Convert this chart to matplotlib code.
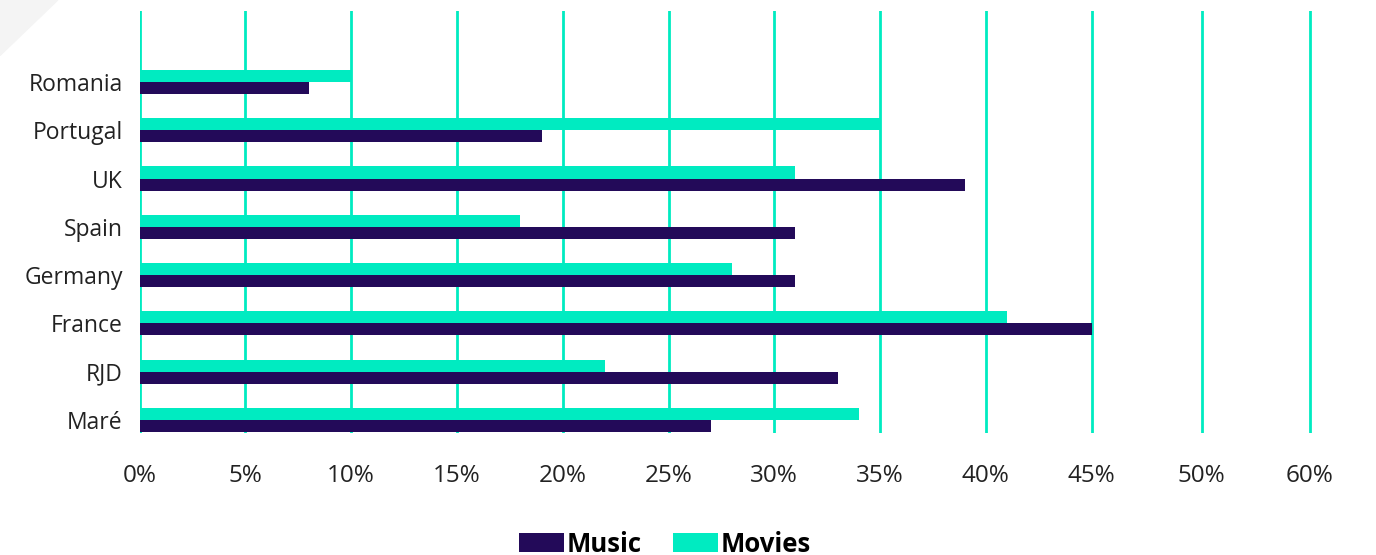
import numpy as np
import matplotlib.pyplot as plt
from matplotlib.patches import Polygon

# data (percent)
countries = ['Romania', 'Portugal', 'UK', 'Spain', 'Germany', 'France', 'RJD', 'Maré']
music = [8, 19, 39, 31, 31, 45, 33, 27]
movies = [10, 35, 31, 18, 28, 41, 22, 34]
tick_pos = [0, 5, 10, 15, 20, 25, 30, 35, 40, 45, 50.2, 55.3]
tick_labels = ['0%', '5%', '10%', '15%', '20%', '25%', '30%', '35%', '40%', '45%', '50%', '60%']

c_music = '#230a59'
c_movies = '#00ebc1'
txt = '#222222'

plt.rcParams['font.family'] = ['Open Sans', 'DejaVu Sans']

fig = plt.figure(figsize=(13.76, 5.55), dpi=100)
# faint corner decoration
fig.patches.append(Polygon([[0, 1], [0.042, 1], [0, 0.90]], closed=True,
                           transform=fig.transFigure, color='#f4f4f4', zorder=0))

ax = fig.add_axes([139.5 / 1376, 1 - 433 / 555, 1185 / 1376, 422 / 555])

y = np.arange(len(countries))
h = 0.25
ax.barh(y - h / 2, movies, height=h, color=c_movies, zorder=3, label='Movies')
ax.barh(y + h / 2, music, height=h, color=c_music, zorder=3, label='Music')

ax.set_xlim(0, 56)
ax.set_ylim(7.27, -1.47)
ax.set_xticks(tick_pos)
ax.set_xticklabels(tick_labels, fontsize=17.5, color=txt)
ax.set_yticks(y)
ax.set_yticklabels(countries, fontsize=16.5, color=txt)
ax.tick_params(axis='both', length=0)
ax.tick_params(axis='x', pad=22)
ax.tick_params(axis='y', pad=12)

ax.grid(axis='x', color=c_movies, linewidth=2, zorder=0)
ax.grid(axis='y', visible=False)
for s in ax.spines.values():
    s.set_visible(False)

handles, labels = ax.get_legend_handles_labels()
leg = fig.legend(handles[::-1], labels[::-1], loc='center', bbox_to_anchor=(665 / 1376, 1 - 544 / 555),
                 ncol=2, frameon=False, prop={'weight': 'bold', 'size': 18.5},
                 handlelength=1.75, handleheight=0.8, handletextpad=0.1, columnspacing=1.2)

fig.savefig('out.png', dpi=100)
